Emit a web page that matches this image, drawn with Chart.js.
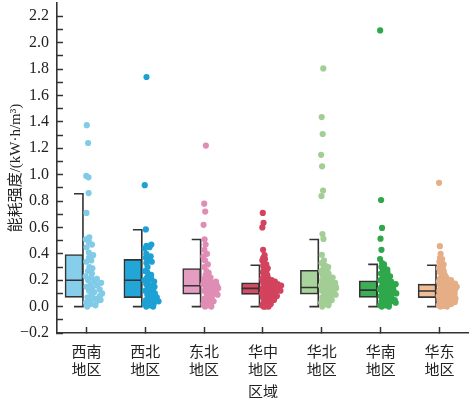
<!DOCTYPE html>
<html><head><meta charset="utf-8">
<script src="https://cdn.jsdelivr.net/npm/chart.js@4.4.1/dist/chart.umd.min.js"></script>
<style>html,body{margin:0;padding:0;background:#fff}#wrap{width:472px;height:398px;position:relative}</style>
</head><body><div id="wrap"><canvas id="c" width="472" height="398"></canvas></div>
<script>
// ---------- data ----------
const categories = [['西南','地区'],['西北','地区'],['东北','地区'],['华中','地区'],['华北','地区'],['华南','地区'],['华东','地区']];
const yTickValues = [-0.2,-0.1,0,0.1,0.2,0.3,0.4,0.5,0.6,0.7,0.8,0.9,1.0,1.1,1.2,1.3,1.4,1.5,1.6,1.7,1.8,1.9,2.0,2.1,2.2];
const yTickLabels = ['\u22120.2','','0.0','','0.2','','0.4','','0.6','','0.8','','1.0','','1.2','','1.4','','1.6','','1.8','','2.0','','2.2'];

const whiskerLow  = [0, 0, 0, 0, 0, 0, 0];
const q1          = [0.07, 0.068, 0.095, 0.093, 0.095, 0.07, 0.068];
const median      = [0.2, 0.2, 0.158, 0.138, 0.145, 0.125, 0.118];
const q3          = [0.395, 0.358, 0.288, 0.18, 0.275, 0.195, 0.17];
const whiskerHigh = [0.855, 0.583, 0.508, 0.313, 0.508, 0.32, 0.313];

const swValues = [1.375,1.24,0.99,0.98,0.86,0.71,0.525,0.51,0.49,0.47,0.45,0.41,0.39,0.37,0.35,0.34,0.3,0.29,0.27,0.25,0.23,0.22,0.21,0.2,0.19,0.18,0.17,0.16,0.15,0.14,0.13,0.12,0.11,0.1,0.09,0.08,0.07,0.06,0.05,0.05,0.04,0.03,0.02,0.01,0.0];
const nwValues = [1.74,0.92,0.585,0.47,0.46,0.45,0.44,0.4,0.38,0.37,0.36,0.34,0.33,0.3,0.27,0.26,0.24,0.22,0.21,0.2,0.2,0.19,0.17,0.16,0.15,0.14,0.13,0.12,0.11,0.1,0.09,0.08,0.07,0.06,0.06,0.05,0.04,0.04,0.03,0.02,0.02,0.01,0.0,0.0];
const neValues = [1.22,0.78,0.72,0.62,0.51,0.47,0.43,0.4,0.38,0.35,0.32,0.3,0.27,0.255,0.24,0.22,0.21,0.2,0.19,0.19,0.18,0.17,0.16,0.16,0.15,0.15,0.14,0.13,0.13,0.12,0.12,0.11,0.1,0.1,0.09,0.08,0.07,0.06,0.05,0.04,0.03,0.02,0.02,0.01,0.0,0.0];
const cValues  = [0.71,0.635,0.6,0.43,0.39,0.37,0.36,0.35,0.33,0.32,0.31,0.3,0.29,0.28,0.27,0.26,0.25,0.24,0.23,0.22,0.21,0.2,0.2,0.19,0.19,0.19,0.18,0.18,0.18,0.17,0.17,0.17,0.16,0.16,0.16,0.15,0.15,0.15,0.15,0.14,0.14,0.14,0.14,0.13,0.13,0.13,0.12,0.12,0.12,0.11,0.11,0.11,0.1,0.1,0.1,0.09,0.09,0.09,0.08,0.08,0.08,0.07,0.07,0.06,0.06,0.06,0.05,0.05,0.04,0.04,0.03,0.03,0.02,0.02,0.01,0.01,0.0,0.0,0.0];
const nValues  = [1.805,1.436,1.308,1.15,1.063,0.88,0.838,0.55,0.513,0.393,0.35,0.33,0.31,0.3,0.29,0.28,0.27,0.26,0.25,0.24,0.23,0.22,0.21,0.2,0.2,0.19,0.18,0.18,0.17,0.16,0.16,0.15,0.15,0.14,0.14,0.13,0.13,0.12,0.12,0.11,0.1,0.1,0.09,0.08,0.08,0.07,0.06,0.05,0.04,0.03,0.03,0.02,0.01,0.0];
const sValues  = [2.093,0.808,0.596,0.515,0.43,0.36,0.33,0.32,0.3,0.29,0.28,0.27,0.26,0.25,0.24,0.23,0.22,0.21,0.2,0.2,0.19,0.18,0.18,0.17,0.16,0.16,0.15,0.15,0.14,0.14,0.13,0.13,0.12,0.12,0.11,0.11,0.1,0.1,0.09,0.08,0.08,0.07,0.07,0.06,0.05,0.05,0.04,0.04,0.03,0.03,0.02,0.02,0.01,0.01,0.0,0.0];
const eValues  = [0.938,0.458,0.4,0.37,0.36,0.34,0.33,0.32,0.31,0.3,0.29,0.28,0.27,0.26,0.25,0.24,0.23,0.22,0.21,0.2,0.2,0.2,0.195,0.19,0.19,0.185,0.18,0.18,0.175,0.17,0.17,0.165,0.16,0.16,0.155,0.15,0.15,0.145,0.14,0.14,0.135,0.13,0.13,0.125,0.12,0.12,0.115,0.11,0.11,0.105,0.1,0.1,0.095,0.09,0.09,0.085,0.08,0.08,0.075,0.07,0.07,0.065,0.06,0.06,0.055,0.05,0.05,0.045,0.04,0.04,0.035,0.03,0.03,0.025,0.02,0.02,0.015,0.01,0.01,0.005,0.0,0.0];

// ---------- styles ----------
const boxColors   = ['#86CEEA','#22A5D7','#E49DC1','#D94A63','#A9D39C','#3CAE55','#F0BE96'];
const pointColors = ['#7FCBE8','#1DA1D5','#E08DB6','#D3435D','#A2CE95','#2FA84C','#E6AE86'];
const regionValues = [swValues, nwValues, neValues, cValues, nValues, sValues, eValues];
const BOX_C = -0.2108, BOX_L = -0.3626, BOX_R = -0.059;
const INK = '#333';

// beeswarm-like horizontal spread: wider where values are denser
function spreadOffsets(vals) {
  const n = vals.map(v => vals.filter(w => Math.abs(w - v) <= 0.03).length);
  const nMax = Math.max(...n);
  const order = vals.map((v, k) => k).sort((a, b) => vals[a] - vals[b]);
  const off = new Array(vals.length);
  order.forEach((k, r) => {
    const u = (r * 0.6180339887 + 0.17) % 1;
    off[k] = -0.015 + u * (0.02 + 0.31 * n[k] / nMax);
  });
  return off;
}

const whiskerData = [], medianData = [];
categories.forEach((_, i) => {
  whiskerData.push({x: i + BOX_C, y: whiskerLow[i]}, {x: i + BOX_R, y: whiskerLow[i]},
                   {x: i + BOX_R, y: whiskerHigh[i]}, {x: i + BOX_C, y: whiskerHigh[i]},
                   {x: i + 0.4, y: null});
  medianData.push({x: i + BOX_L, y: median[i]}, {x: i + BOX_R, y: median[i]}, {x: i + 0.4, y: null});
});

const datasets = [];
regionValues.forEach((vals, i) => {
  const off = spreadOffsets(vals);
  datasets.push({
    type: 'scatter', order: 1,
    data: vals.map((v, k) => ({x: i + off[k], y: v})),
    backgroundColor: pointColors[i], borderWidth: 0, pointRadius: 3.1, pointHoverRadius: 3.1
  });
});
datasets.push({
  type: 'line', order: 4, data: medianData, borderColor: INK, borderWidth: 1.6,
  pointRadius: 0, spanGaps: false, tension: 0, fill: false
});
datasets.push({
  type: 'line', order: 5, data: whiskerData, borderColor: INK, borderWidth: 1.6,
  pointRadius: 0, spanGaps: false, tension: 0, fill: false
});
datasets.push({
  type: 'bar', order: 10,
  data: categories.map((_, i) => ({x: i + BOX_C, y: [q1[i], q3[i]]})),
  backgroundColor: boxColors, borderColor: INK, borderWidth: 1.6, borderSkipped: false,
  barThickness: 18, grouped: false
});

const serif = '"Liberation Serif", "Noto Sans CJK SC", serif';
const cjk = '"Noto Sans CJK SC", sans-serif';

new Chart(document.getElementById('c'), {
  type: 'bar',
  data: { datasets },
  options: {
    responsive: false, animation: false,
    layout: { padding: 0 },
    plugins: { legend: { display: false }, tooltip: { enabled: false } },
    scales: {
      x: {
        type: 'linear', min: -0.5, max: 6.5, offset: false,
        afterBuildTicks: s => { s.ticks = categories.map((_, i) => ({ value: i })); },
        afterFit: s => { s.height = 65; s.paddingLeft = 0; s.paddingRight = 0; },
        ticks: {
          autoSkip: false, maxRotation: 0, minRotation: 0, padding: 16, color: '#222',
          font: { family: cjk, size: 15, lineHeight: 1.15 },
          callback: v => categories[v]
        },
        grid: { offset: false, drawOnChartArea: false, drawTicks: true, tickLength: -6, tickColor: INK, tickWidth: 1.5 },
        border: { display: true, color: INK, width: 1.6 },
        title: { display: true, text: '区域', color: '#222', padding: 0,
                 font: { family: cjk, size: 15, lineHeight: 0.93 } }
      },
      y: {
        type: 'linear', min: -0.2, max: 2.3,
        afterBuildTicks: s => { s.ticks = yTickValues.map(v => ({ value: v })); },
        afterFit: s => { s.width = 57; s.paddingTop = 0; s.paddingBottom = 0; },
        ticks: {
          autoSkip: false, padding: 14, color: '#222',
          font: { family: serif, size: 16 },
          callback: (v, idx) => yTickLabels[idx]
        },
        grid: { drawOnChartArea: false, drawTicks: true, tickLength: -6, tickColor: INK, tickWidth: 1.5 },
        border: { display: true, color: INK, width: 1.6 },
        title: { display: true, text: '能耗强度/(kW·h/m³)', color: '#222', padding: { top: 7, bottom: 0 },
                 font: { family: serif, size: 15, lineHeight: 1.2 } }
      }
    }
  }
});
</script>
</body></html>
